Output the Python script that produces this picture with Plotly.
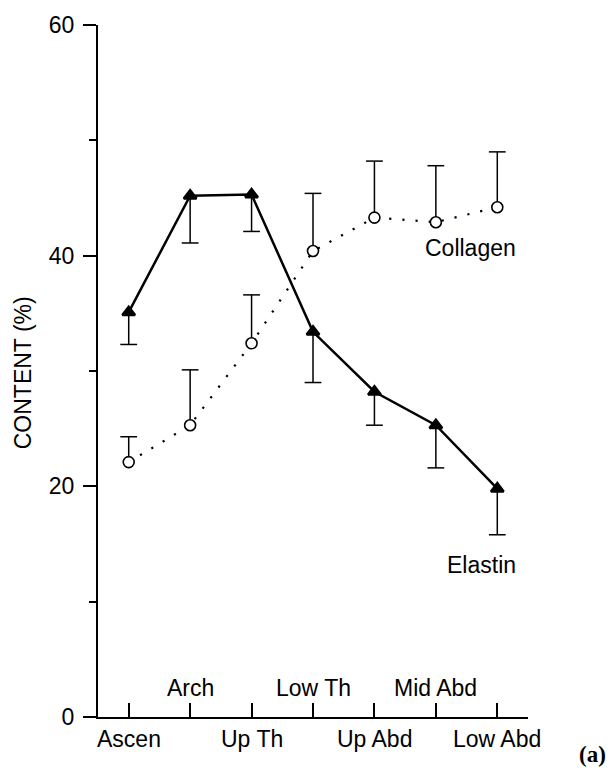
import plotly.graph_objects as go

# ---- data ----
sites = ["Ascen", "Arch", "Up Th", "Low Th", "Up Abd", "Mid Abd", "Low Abd"]
elastin = [35.1, 45.2, 45.3, 33.4, 28.2, 25.3, 19.8]
elastin_sd = [2.8, 4.1, 3.2, 4.4, 2.9, 3.7, 4.0]      # drawn downward
collagen = [22.1, 25.3, 32.4, 40.4, 43.3, 42.9, 44.2]
collagen_sd = [2.2, 4.8, 4.2, 5.0, 4.9, 4.9, 4.8]     # drawn upward
y_ticks = [0, 20, 40, 60]

FONT = "Liberation Sans, Arial, Helvetica, sans-serif"
BLACK = "black"
TXT = 23

fig = go.Figure()

zeros = [0] * len(sites)

# Collagen (dotted line, open circles, upward error bars)
fig.add_trace(go.Scatter(
    x=sites, y=collagen, mode="lines+markers",
    line=dict(color=BLACK, width=2.2, dash="2.2px,11px"),
    marker=dict(symbol="circle", size=11, color="white",
                line=dict(color=BLACK, width=1.6)),
    error_y=dict(type="data", symmetric=False, array=collagen_sd,
                 arrayminus=zeros, width=0, thickness=1.5, color=BLACK),
    showlegend=False, hoverinfo="skip"))
fig.add_trace(go.Scatter(
    x=sites, y=[c + s for c, s in zip(collagen, collagen_sd)], mode="markers",
    marker=dict(symbol="line-ew", size=12, line=dict(color=BLACK, width=1.5)),
    showlegend=False, hoverinfo="skip"))

# Elastin (solid line, filled triangles, downward error bars)
fig.add_trace(go.Scatter(
    x=sites, y=elastin, mode="lines+markers",
    line=dict(color=BLACK, width=2.5),
    marker=dict(symbol="triangle-up", size=11, color=BLACK,
                line=dict(color=BLACK, width=2.5)),
    error_y=dict(type="data", symmetric=False, array=zeros,
                 arrayminus=elastin_sd, width=0, thickness=1.5, color=BLACK),
    showlegend=False, hoverinfo="skip"))
fig.add_trace(go.Scatter(
    x=sites, y=[e - s for e, s in zip(elastin, elastin_sd)], mode="markers",
    marker=dict(symbol="line-ew", size=12, line=dict(color=BLACK, width=1.5)),
    showlegend=False, hoverinfo="skip"))

# alternating category labels
annotations = []
for i, name in enumerate(sites):
    above = (i % 2 == 1)
    annotations.append(dict(
        x=name, y=0, xref="x", yref="y", text=name, showarrow=False,
        yanchor="middle", xanchor="center",
        yshift=29 if above else -22,
        font=dict(family=FONT, size=TXT, color=BLACK)))

annotations += [
    dict(x=5.56, y=40.7, xref="x", yref="y", text="Collagen", showarrow=False,
         xanchor="center", yanchor="middle",
         font=dict(family=FONT, size=TXT, color=BLACK)),
    dict(x=5.74, y=13.15, xref="x", yref="y", text="Elastin", showarrow=False,
         xanchor="center", yanchor="middle",
         font=dict(family=FONT, size=TXT, color=BLACK)),
    dict(x=-0.174, y=0.497, xref="paper", yref="paper", text="CONTENT (%)",
         textangle=-90, showarrow=False, xanchor="center", yanchor="middle",
         font=dict(family=FONT, size=TXT, color=BLACK)),
    dict(x=1.151, y=-0.054, xref="paper", yref="paper", text="<b>(a)</b>",
         showarrow=False, xanchor="center", yanchor="middle",
         font=dict(family="Liberation Serif, Times New Roman, serif", size=23, color=BLACK)),
]

fig.update_layout(
    width=611, height=771, autosize=False,
    margin=dict(l=98, r=83, t=19, b=54, pad=0),
    paper_bgcolor="white", plot_bgcolor="white",
    showlegend=False,
    annotations=annotations,
    xaxis=dict(
        type="category", categoryorder="array", categoryarray=sites,
        range=[-0.5, 6.5], showgrid=False, zeroline=False,
        showline=True, linecolor=BLACK, linewidth=2,
        ticks="inside", ticklen=14, tickwidth=1.5, tickcolor=BLACK,
        showticklabels=False,
    ),
    yaxis=dict(
        range=[0, 60], tickvals=y_ticks, showgrid=False, zeroline=False,
        showline=True, linecolor=BLACK, linewidth=2,
        ticks="outside", ticklen=13, tickwidth=2, tickcolor=BLACK,
        ticklabelstandoff=4,
        tickfont=dict(family=FONT, size=TXT, color=BLACK),
        minor=dict(dtick=10, ticks="outside", ticklen=7, tickwidth=2, tickcolor=BLACK),
    ),
)

fig.write_html("out.html")
